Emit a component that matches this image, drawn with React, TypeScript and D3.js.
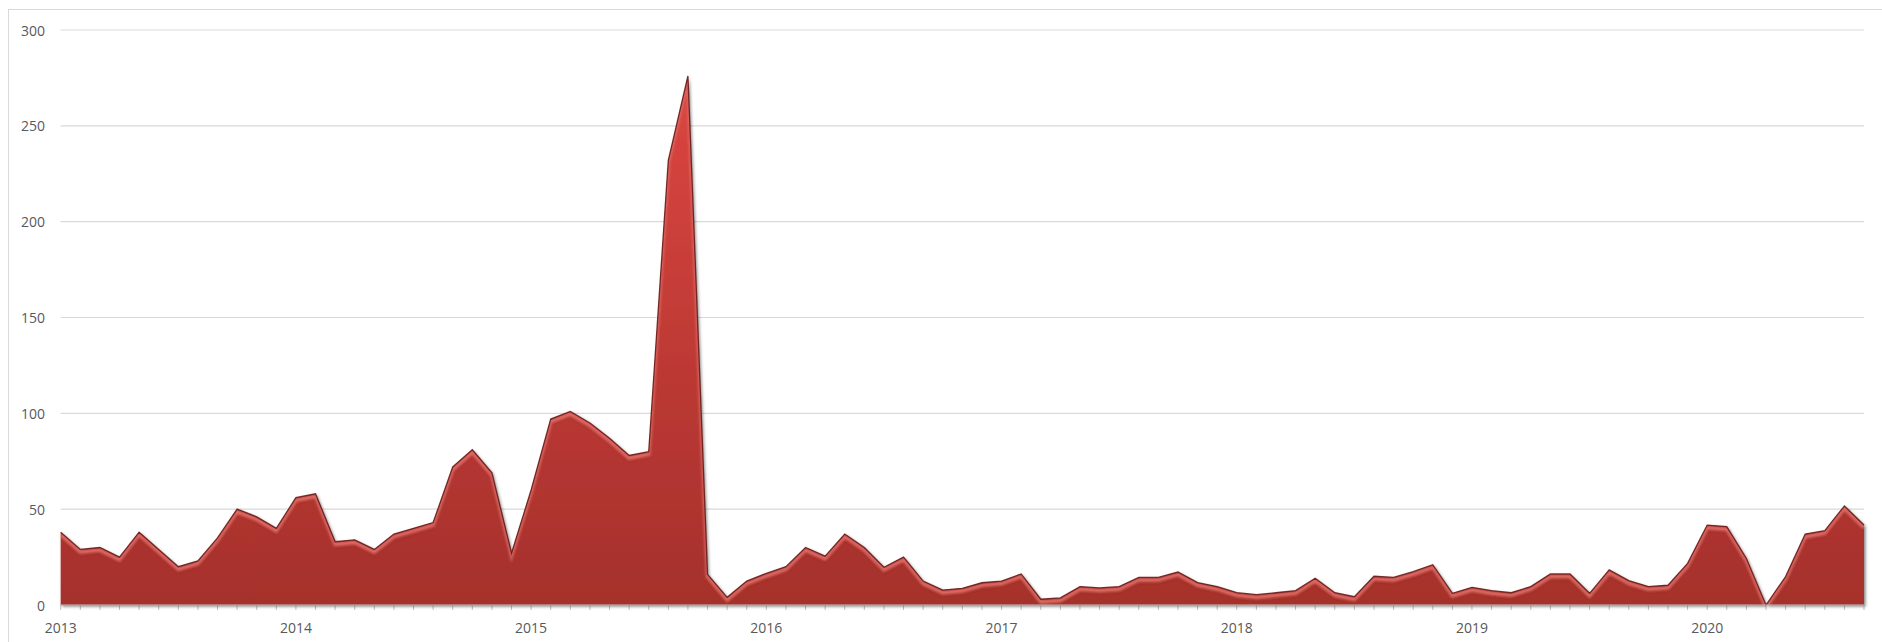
import React from "react";
import * as d3 from "d3";

// Monthly values, Jan 2013 .. Sep 2020
const startYear = 2013;
const values: number[] = [
  38, 29, 30, 25, 38, 29, 20, 23, 35, 50, 46, 40,
  56, 58, 33, 34, 29, 37, 40, 43, 72, 81, 69, 27,
  60, 97, 101, 95, 87, 78, 80, 232, 276, 16, 4, 12.5,
  16.5, 20, 30, 25.5, 37, 30, 19.7, 25, 12.5, 7.8, 8.7, 11.6,
  12.5, 16.2, 3, 3.7, 9.6, 8.9, 9.6, 14.4, 14.4, 17.2, 11.7, 9.6,
  6.4, 5.4, 6.4, 7.5, 14, 6.4, 4.3, 15, 14.4, 17.4, 21, 6.1,
  9.2, 7.5, 6.4, 9.6, 16.2, 16.2, 6.1, 18.3, 12.7, 9.6, 10.3, 21.7,
  41.7, 40.9, 24.3, 0, 14.8, 37, 38.8, 51.7, 41.7,
];
const yearLabels = ["2013", "2014", "2015", "2016", "2017", "2018", "2019", "2020"];
const yTicks = [0, 50, 100, 150, 200, 250, 300];

const W = 1882;
const H = 642;
const FONT = "'Open Sans', 'Liberation Sans', sans-serif";

export default function App() {
  const n = values.length;
  const x = d3.scaleLinear().domain([0, n - 1]).range([60.7, 1864]);
  const y = d3.scaleLinear().domain([0, 300]).range([605, 30]);

  const area = d3
    .area<number>()
    .x((_, i) => x(i))
    .y0(y(0))
    .y1((d) => y(d));
  const line = d3
    .line<number>()
    .x((_, i) => x(i))
    .y((d) => y(d));

  const areaD = area(values) || "";
  const lineD = line(values) || "";
  const monthIdx = d3.range(n);

  return (
    <svg
      width={W}
      height={H}
      style={{ position: "absolute", left: 0, top: 0, background: "#fff" }}
    >
      <defs>
        <linearGradient
          id="fillGrad"
          gradientUnits="userSpaceOnUse"
          x1={0}
          y1={y(276)}
          x2={0}
          y2={y(0)}
        >
          <stop offset="0%" stopColor="#dc4641" />
          <stop offset="55%" stopColor="#bd3934" />
          <stop offset="100%" stopColor="#a5312c" />
        </linearGradient>
        <filter id="shadow" x="-5%" y="-5%" width="110%" height="115%">
          <feDropShadow dx={1.5} dy={1.5} stdDeviation={1.8} floodColor="#000" floodOpacity={0.5} />
        </filter>
        <filter id="blur1">
          <feGaussianBlur stdDeviation={0.8} />
        </filter>
        <clipPath id="areaClip">
          <path d={areaD} />
        </clipPath>
      </defs>

      {/* chart frame */}
      <rect x={8.5} y={9.5} width={W} height={H} fill="none" stroke="#d9d9d9" strokeWidth={1} />

      {/* gridlines */}
      {yTicks.map((t) => (
        <line
          key={"g" + t}
          x1={x(0)}
          x2={x(n - 1)}
          y1={y(t)}
          y2={y(t)}
          stroke="#d9d9d9"
          strokeWidth={1.2}
        />
      ))}

      {/* y labels */}
      {yTicks.map((t) => (
        <text
          key={"yl" + t}
          x={45}
          y={y(t)}
          textAnchor="end"
          dominantBaseline="central"
          fontFamily={FONT}
          fontSize={14}
          fill="#595959"
        >
          {t}
        </text>
      ))}

      {/* axis ticks */}
      {monthIdx.map((i) => (
        <line
          key={"t" + i}
          x1={x(i)}
          x2={x(i)}
          y1={y(0)}
          y2={y(0) + 5}
          stroke="#bfbfbf"
          strokeWidth={1}
        />
      ))}

      {/* area */}
      <path d={areaD} fill="url(#fillGrad)" filter="url(#shadow)" />
      <g clipPath="url(#areaClip)">
        <path
          d={lineD}
          transform="translate(0,2.8)"
          fill="none"
          stroke="#ee7c76"
          strokeWidth={3.6}
          strokeOpacity={0.8}
          filter="url(#blur1)"
        />
        <path
          d={lineD}
          transform="translate(0,5.5)"
          fill="none"
          stroke="#8f2622"
          strokeWidth={2}
          strokeOpacity={0.25}
          filter="url(#blur1)"
        />
      </g>
      <path d={lineD} fill="none" stroke="#6a1c19" strokeWidth={1.3} strokeOpacity={0.9} />

      {/* x axis line */}
      <line x1={x(0)} x2={x(n - 1)} y1={y(0)} y2={y(0)} stroke="#bfbfbf" strokeWidth={1.2} />

      {/* x labels */}
      {yearLabels.map((lab, k) => (
        <text
          key={"xl" + lab}
          x={x(k * 12)}
          y={627}
          textAnchor="middle"
          dominantBaseline="central"
          fontFamily={FONT}
          fontSize={14}
          fill="#595959"
        >
          {lab}
        </text>
      ))}
      <title>{`Monthly values from ${startYear}`}</title>
    </svg>
  );
}
